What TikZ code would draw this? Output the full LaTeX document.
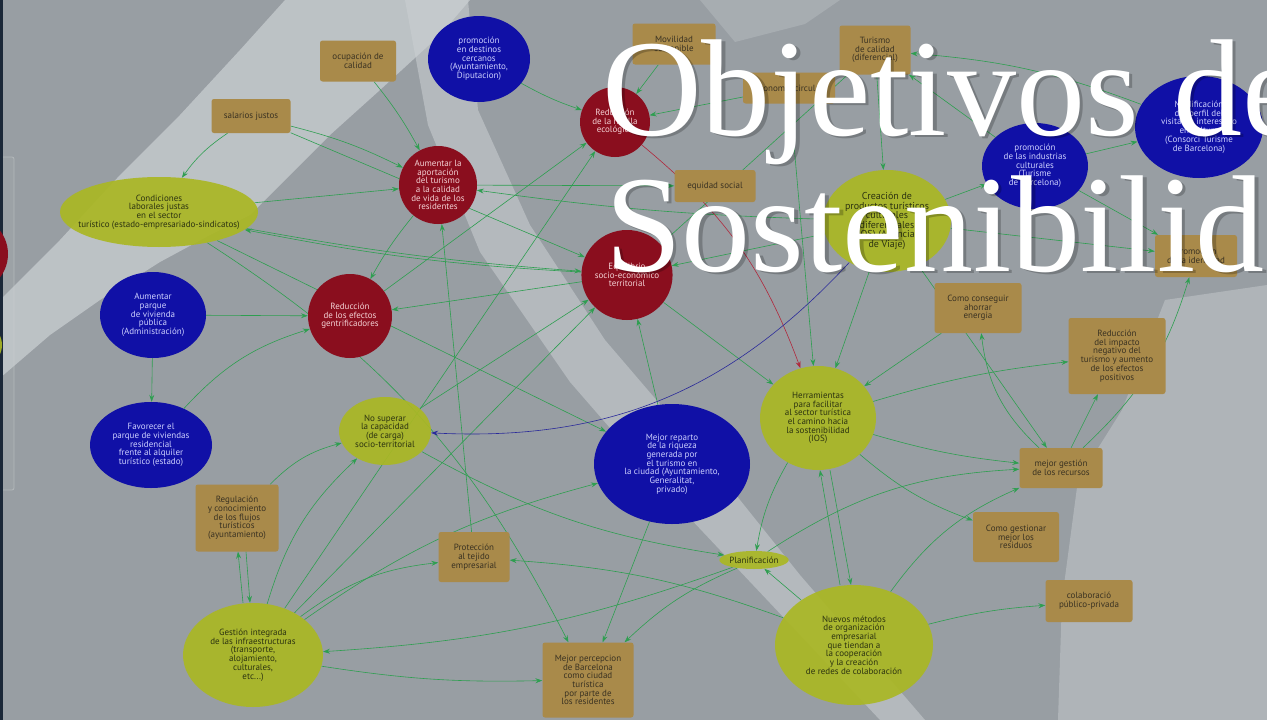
\documentclass[tikz,border=0pt]{standalone}
\usepackage{fontspec}
\setmainfont{Liberation Serif}
\newfontfamily\nf{PT Sans}
\usetikzlibrary{shapes.geometric,arrows.meta}
\definecolor{bgc}{HTML}{989EA3}
\definecolor{lightc}{HTML}{CBD0D3}
\definecolor{panelc}{HTML}{9CA2A6}
\definecolor{panelb}{HTML}{B4B9BC}
\definecolor{boxc}{HTML}{A98A4A}
\definecolor{boxt}{HTML}{3A3222}
\definecolor{redc}{HTML}{8A0E1E}
\definecolor{redt}{HTML}{F3D0D3}
\definecolor{bluec}{HTML}{1010A6}
\definecolor{bluet}{HTML}{CDD0FF}
\definecolor{ygc}{HTML}{AAB724}
\definecolor{ygt}{HTML}{2C3310}
\definecolor{arc}{HTML}{2E9E50}
\definecolor{redar}{HTML}{B0283C}
\definecolor{bluear}{HTML}{2A2A9A}
\definecolor{navyc}{HTML}{1B2838}
\pgfdeclarelayer{bg}
\pgfdeclarelayer{edges}
\pgfsetlayers{bg,edges,main}
\tikzset{
  base/.style={inner sep=0pt, align=center, font=\nf\fontsize{9}{8.7}\selectfont},
  sz/.style 2 args={minimum width=#1pt, minimum height=#2pt},
  bx/.style={base, rectangle, rounded corners=2.5pt, fill=boxc, text=boxt},
  rc/.style={base, ellipse, fill=redc, text=redt},
  bc/.style={base, ellipse, fill=bluec, text=bluet},
  yc/.style={base, ellipse, fill=ygc, fill opacity=0.92, text opacity=1, text=ygt},
  ar/.style={draw=arc, line width=0.6pt, -{Stealth[length=7pt,width=5pt,inset=2.5pt]}},
  arred/.style={draw=redar, line width=0.6pt, -{Stealth[length=7pt,width=5pt,inset=2.5pt]}},
  arblue/.style={draw=bluear, line width=0.6pt, -{Stealth[length=7pt,width=5pt,inset=2.5pt]}},
  ttl/.style={anchor=base west, inner sep=0pt, font=\fontsize{138}{138}\selectfont},
}
\begin{document}
\begin{tikzpicture}[x=1pt,y=-1pt]
\useasboundingbox (0,0) rectangle (1267,720);
\begin{pgfonlayer}{bg}
\fill[bgc] (0,0) rectangle (1267,720);
\fill[panelc, draw=panelb, line width=0.8pt, rounded corners=2pt] (-5,157) rectangle (14,490);
\fill[lightc, opacity=0.72] (285,0) -- (470,0) -- (440,35) -- (380,90) -- (330,135) -- (300,165) -- (250,215) -- (210,235) -- (160,262) -- (100,300) -- (50,335) -- (0,378) -- (0,300) -- (60,240) -- (120,175) -- (180,115) -- (240,50) -- cycle;
\fill[lightc, opacity=0.55] (405,0) -- (468,0) -- (478,110) -- (530,225) -- (605,340) -- (712,465) -- (800,575) -- (925,720) -- (880,720) -- (770,603) -- (670,497) -- (570,382) -- (480,252) -- (428,125) -- cycle;
\fill[lightc, opacity=0.3] (700,0) -- (840,0) -- (805,24) -- (735,42) -- cycle;
\fill[lightc, opacity=0.45] (1165,300) -- (1267,285) -- (1267,720) -- (1058,720) -- (1062,600) -- (1078,480) -- (1122,410) -- cycle;
\fill[navyc] (0,0) rectangle (2.5,720);
\end{pgfonlayer}

\node[rc, sz={76}{76}] (lp1) at (-30,254) {};
\node[yc, sz={84}{60}] (lp2) at (-40,345) {};

\node[bx, sz={76}{41}] (ocup) at (358,61) {ocupación de\\calidad};
\node[bx, sz={79}{34}] (sal) at (251,116) {salarios justos};
\node[bc, sz={102}{86}] (promdest) at (479,59) {promoción\\en destinos\\cercanos\\(Ayuntamiento,\\Diputacion)};
\node[yc, sz={198}{70}, inner xsep=-14pt] (cond) at (159,212) {Condiciones\\laborales justas\\en el sector\\turístico (estado-empresariado-sindicatos)};
\node[rc, sz={78}{78}] (aport) at (438,185) {Aumentar la\\aportación\\del turismo\\a la calidad\\de vida de los\\residentes};
\node[rc, sz={70}{70}] (huella) at (615,122) {Reducción\\de la huella\\ecológica};
\node[bx, sz={83}{41}] (movil) at (674,44) {Movilidad\\sostenible};
\node[bx, sz={92}{31}] (econ) at (789,88) {economía circular};
\node[bx, sz={81}{32}] (equi) at (715,186) {equidad social};
\node[bx, sz={71}{49}] (turcal) at (875,50) {Turismo\\de calidad\\(diferencial)};
\node[yc, sz={128}{102}, font=\nf\fontsize{10}{9.6}\selectfont] (crea) at (887,221) {Creación de\\productos turísticos\\culturales\\diferenciales\\(IOS) (Agencias\\de Viaje)};
\node[bc, sz={106}{86}] (promind) at (1035,166) {promoción\\de las industrias\\culturales\\(Turisme\\de Barcelona)};
\node[bc, sz={128}{102}] (divers) at (1199,127) {Modificación\\del perfil del\\visitante interesado\\en cultura\\(Consorci Turisme\\de Barcelona)};
\node[bx, sz={82}{42}] (promres) at (1196,256) {Promoción\\de la identidad};
\node[rc, sz={90}{90}] (equil) at (627,275) {Equilibrio\\socio-económico\\territorial};
\node[rc, sz={84}{84}] (gentr) at (350,316) {Reducción\\de los efectos\\gentrificadores};
\node[bc, sz={106}{86}] (parque) at (153,315) {Aumentar\\parque\\de vivienda\\pública\\(Administración)};
\node[bc, sz={122}{86}] (favor) at (151,445) {Favorecer el\\parque de viviendas\\residencial\\frente al alquiler\\turístico (estado)};
\node[yc, sz={92}{68}] (nosup) at (385,431) {No superar\\la capacidad\\(de carga)\\socio-territorial};
\node[bx, sz={87}{50}] (energ) at (978,308) {Como conseguir\\ahorrar\\energia};
\node[bx, sz={97}{76}] (impac) at (1117,356) {Reducción\\del impacto\\negativo del\\turismo y aumento\\de los efectos\\positivos};
\node[yc, sz={116}{104}] (herr) at (818,418) {Herramientas\\para facilitar\\al sector turística\\el camino hacia\\la sostenibilidad\\(IOS)};
\node[bx, sz={83}{40}] (recur) at (1061,468) {mejor gestión\\de los recursos};
\node[bc, sz={156}{120}] (repart) at (672,464) {Mejor reparto\\de la riqueza\\generada por\\el turismo en\\la ciudad (Ayuntamiento,\\Generalitat,\\privado)};
\node[bx, sz={83}{67}] (regul) at (237,518) {Regulación\\y conocimiento\\de los flujos\\turísticos\\(ayuntamiento)};
\node[bx, sz={71}{50}] (prot) at (474,557) {Protección\\al tejido\\empresarial};
\node[yc, sz={54}{18}] (plan) at (754,560) {Planificación};
\node[bx, sz={86}{50}] (resid) at (1016,537) {Como gestionar\\mejor los\\residuos};
\node[yc, sz={158}{120}] (nuevos) at (854,645) {Nuevos métodos\\de organización\\empresarial\\que tiendan a\\la cooperación\\y la creación\\de redes de colaboración};
\node[bx, sz={87}{42}] (colab) at (1089,601) {colaboració\\público-privada};
\node[bx, sz={91}{75}] (percep) at (588,680) {Mejor percepcion\\de Barcelona\\como ciudad\\turística\\por parte de\\los residentes};
\node[yc, sz={140}{104}] (gest) at (253,655) {Gestión integrada\\de las infraestructuras\\(transporte,\\alojamiento,\\culturales,\\etc...)};

\begin{pgfonlayer}{edges}
\draw[ar] (sal) to[bend right=10] (cond);
\draw[ar] (sal) to[bend left=6] (aport);
\draw[ar] (sal) -- (equil);
\draw[ar] (ocup) to[bend left=5] (aport);
\draw[ar] (promdest) to[bend right=5] (huella);
\draw[ar] (movil) -- (huella);
\draw[ar] (econ) -- (huella);
\draw[ar] (turcal) -- (crea);
\draw[ar] (divers) to[bend right=8] (turcal);
\draw[ar] (promind) -- (turcal);
\draw[ar] (crea) -- (promind);
\draw[ar] (promind) -- (divers);
\draw[ar] (crea) -- (promres);
\draw[ar] (promind) -- (promres);
\draw[ar] (cond) -- (aport);
\draw[ar] (equil) to[bend left=4] (cond);
\draw[ar] (cond) to[bend right=3] (equil);
\draw[ar] (cond) -- (repart);
\draw[ar] (cond) to[bend left=15] (percep);
\draw[ar] (aport) to[bend right=5] (gentr);
\draw[ar] (aport) -- (equi);
\draw[ar] (crea) to[bend left=3] (aport);
\draw[ar] (prot) -- (aport);
\draw[ar] (equil) -- (herr);
\draw[ar] (crea) -- (herr);
\draw[ar] (econ) -- (herr);
\draw[ar] (crea) -- (equil);
\draw[ar] (turcal) -- (equil);
\draw[ar] (energ) -- (herr);
\draw[ar] (herr) to[bend left=5] (impac);
\draw[ar] (recur) to[bend left=20] (energ);
\draw[ar] (recur) -- (impac);
\draw[ar] (recur) to[bend right=15] (promres);
\draw[ar] (herr) to[bend right=5] (recur);
\draw[ar] (herr) to[bend right=10] (resid);
\draw[ar] (crea) -- (recur);
\draw[ar] (nuevos) to[bend left=5] (colab);
\draw[ar] (nuevos) to[bend left=15] (recur);
\draw[ar] (plan) to[bend left=15] (recur);
\draw[ar] (nuevos) -- (plan);
\draw[ar] ([xshift=-14pt]nuevos.north) -- ([xshift=2pt]herr.south);
\draw[ar] ([xshift=12pt]herr.south) -- ([xshift=-3pt]nuevos.north);
\draw[ar] (herr) to[bend right=10] (plan);
\draw[ar] (nosup) to[bend right=10] (plan);
\draw[ar] (plan) to[bend right=10] (percep);
\draw[ar] (plan) to[bend left=8] (gest);
\draw[ar] (nuevos) to[bend right=8] (prot);
\draw[ar] (gest) to[bend right=5] (percep);
\draw[ar] (repart) -- (percep);
\draw[ar] (repart) -- (equil);
\draw[ar] (gest) -- (equil);
\draw[ar] (gest) to[bend left=10] (repart);
\draw[ar] (gest) to[bend left=15] (prot);
\draw[ar] (gest) to[bend left=15] (nosup);
\draw[ar] (gest) -- (huella);
\draw[ar] ([xshift=-10pt]gest.north) -- ([xshift=1pt]regul.south);
\draw[ar] ([xshift=9pt]regul.south) -- ([xshift=-3pt]gest.north);
\draw[ar] (regul) to[bend left=15] (nosup);
\draw[ar] (parque) -- (gentr);
\draw[ar] (parque) -- (favor);
\draw[ar] (favor) to[bend left=15] (gentr);
\draw[ar] (equil) -- (gentr);
\draw[ar] (gentr) -- (huella);
\draw[ar] (nosup) -- (equil);
\draw[arred] (huella) to[bend left=15] (herr);
\draw[arblue] (crea) to[bend left=25] (nosup);
\end{pgfonlayer}

\node[ttl, text=black, opacity=0.22] (t1s) at (605.5,137.5) {Objetivos de};
\node[ttl, text=black, opacity=0.22] (t2s) at (608.5,273.5) {Sostenibilidad};
\node[ttl, text=white] (t1) at (602,135) {Objetivos de};
\node[ttl, text=white] (t2) at (605,271) {Sostenibilidad};
\end{tikzpicture}
\end{document}
